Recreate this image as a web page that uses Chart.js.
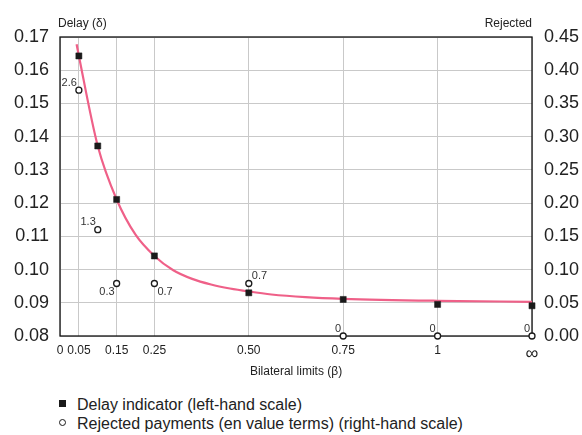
<!DOCTYPE html>
<html>
<head>
<meta charset="utf-8">
<script src="https://cdn.jsdelivr.net/npm/chart.js@4.4.1/dist/chart.umd.min.js"></script>
<style>
  body { margin: 0; background: #fff; font-family: "Liberation Sans", Arial, sans-serif; }
  #wrap { position: relative; width: 582px; height: 435px; }
  #chart { position: absolute; left: 0; top: 0; }
  .legend-row { position: absolute; left: 59px; font-size: 16px; color: #222; line-height: 18px; white-space: nowrap; }
  .legend-row .mk { display: inline-block; vertical-align: middle; margin-right: 11px; position: relative; top: -2px; }
  .mk.square { width: 7px; height: 7px; background: #1a1a1a; }
  .mk.circle { width: 5px; height: 5px; border: 1.3px solid #1a1a1a; border-radius: 50%; background: #fff; }
</style>
</head>
<body>
<div id="wrap">
  <canvas id="chart" width="582" height="385"></canvas>
  <div class="legend-row" style="top:396px;"><span class="mk square"></span>Delay indicator (left-hand scale)</div>
  <div class="legend-row" style="top:415px;"><span class="mk circle"></span>Rejected payments (en value terms) (right-hand scale)</div>
</div>
<script>
/* ========================================
   Delay vs bilateral limits
   ======================================== */

// x axis: bilateral limits, "∞" is placed one step past 1
const xTicks = [0, 0.05, 0.15, 0.25, 0.5, 0.75, 1, 1.25];
const xTickLabels = ["0", "0.05", "0.15", "0.25", "0.50", "0.75", "1", "\u221e"];

// measured points
const betaValues = [0.05, 0.1, 0.15, 0.25, 0.5, 0.75, 1, 1.25];
const delayValues = [0.1643, 0.1372, 0.1211, 0.1041, 0.093, 0.091, 0.0895, 0.0891];
const rejectedValues = [0.37, 0.16, 0.079, 0.079, 0.079, 0, 0, 0];
const rejectedLabels = ["2.6", "1.3", "0.3", "0.7", "0.7", "0", "0", "0"];

// fitted curve through the delay points
const curveBeta = [0.044, 0.05, 0.1, 0.15, 0.2, 0.25, 0.3, 0.35, 0.4, 0.45, 0.5, 0.56, 0.65, 0.75, 1, 1.25];
const curveDelay = [0.1678, 0.1643, 0.1372, 0.1211, 0.1105, 0.1041, 0.0998, 0.0972, 0.0955, 0.0943, 0.0934, 0.0925, 0.0917, 0.0912, 0.0906, 0.0903];

// where each small label sits around its circle
const labelPlacement = ["nw", "nw", "sw", "se", "ne", "nw", "nw", "nw"];

const FONT = "'Liberation Sans', Arial, sans-serif";
const INK = "#222";

const toPoints = (xs, ys) => xs.map((x, i) => ({ x, y: ys[i] }));

/**
 * Frame around the plot area and the two axis captions.
 */
const framePlugin = {
  id: "frame",
  beforeDatasetsDraw(chart) {
    const { ctx, chartArea: a } = chart;
    ctx.save();
    ctx.strokeStyle = "#111";
    ctx.lineWidth = 1.3;
    ctx.strokeRect(a.left, a.top, a.right - a.left, a.bottom - a.top);
    ctx.fillStyle = INK;
    ctx.font = `12px ${FONT}`;
    ctx.textBaseline = "alphabetic";
    ctx.textAlign = "left";
    ctx.fillText("Delay (\u03b4)", a.left - 2, a.top - 10);
    ctx.textAlign = "right";
    ctx.fillText("Rejected", a.right, a.top - 10);
    ctx.restore();
  },
};

/**
 * Value labels next to the rejected-payment circles.
 */
const rejectedLabelPlugin = {
  id: "rejectedLabels",
  afterDatasetsDraw(chart) {
    const meta = chart.getDatasetMeta(1);
    const { ctx } = chart;
    ctx.save();
    ctx.fillStyle = "#333";
    ctx.font = `11px ${FONT}`;
    meta.data.forEach((pt, i) => {
      const p = labelPlacement[i];
      let x = pt.x;
      let y = pt.y;
      if (p[1] === "w") { ctx.textAlign = "right"; x -= 2; }
      else { ctx.textAlign = "left"; x += 3; }
      if (p[0] === "n") { ctx.textBaseline = "bottom"; y -= 2; }
      else { ctx.textBaseline = "top"; y += 3; }
      ctx.fillText(rejectedLabels[i], x, y);
    });
    ctx.restore();
  },
};

new Chart(document.getElementById("chart").getContext("2d"), {
  type: "scatter",
  data: {
    datasets: [
      {
        label: "Delay indicator (left-hand scale)",
        data: toPoints(betaValues, delayValues),
        yAxisID: "y",
        pointStyle: "rect",
        pointRadius: 4.3,
        pointBorderWidth: 0.5,
        backgroundColor: "#1a1a1a",
        borderColor: "#1a1a1a",
        clip: false,
        order: 0,
      },
      {
        label: "Rejected payments (en value terms) (right-hand scale)",
        data: toPoints(betaValues, rejectedValues),
        yAxisID: "y2",
        pointStyle: "circle",
        pointRadius: 3,
        pointBorderWidth: 1.3,
        backgroundColor: "#fff",
        borderColor: "#1a1a1a",
        clip: false,
        order: 1,
      },
      {
        label: "curve",
        type: "line",
        data: toPoints(curveBeta, curveDelay),
        yAxisID: "y",
        borderColor: "#ef6088",
        borderWidth: 2.2,
        pointRadius: 0,
        cubicInterpolationMode: "monotone",
        fill: false,
        order: 2,
      },
    ],
  },
  options: {
    responsive: false,
    animation: false,
    layout: { padding: { top: 37, left: 0, right: 0, bottom: 0 } },
    plugins: {
      legend: { display: false },
      tooltip: { enabled: false },
    },
    scales: {
      x: {
        type: "linear",
        min: 0,
        max: 1.25,
        afterBuildTicks: (scale) => {
          scale.ticks = xTicks.map((v) => ({ value: v }));
        },
        afterFit: (scale) => { scale.height = 49; },
        grid: { color: "#c9c9c9", lineWidth: 1, drawTicks: false },
        border: { display: false },
        ticks: {
          color: INK,
          padding: 7,
          maxRotation: 0,
          autoSkip: false,
          font: (c) => ({ family: FONT, size: c.tick && c.tick.value === 1.25 ? 18 : 12 }),
          callback: (val) => xTickLabels[xTicks.indexOf(val)],
        },
        title: {
          display: true,
          text: "Bilateral limits (\u03b2)",
          color: INK,
          font: { family: FONT, size: 12 },
          padding: { top: 4, bottom: 6 },
        },
      },
      y: {
        position: "left",
        min: 0.08,
        max: 0.17,
        afterFit: (scale) => { scale.width = 60; },
        grid: { color: "#c9c9c9", lineWidth: 1, drawTicks: false },
        border: { display: false },
        ticks: {
          stepSize: 0.01,
          color: INK,
          padding: 11,
          font: { family: FONT, size: 18 },
          callback: (val) => val.toFixed(2),
        },
      },
      y2: {
        position: "right",
        min: 0,
        max: 0.45,
        afterFit: (scale) => { scale.width = 50; },
        grid: { display: false, drawTicks: false },
        border: { display: false },
        ticks: {
          stepSize: 0.05,
          color: INK,
          padding: 12,
          font: { family: FONT, size: 18 },
          callback: (val) => val.toFixed(2),
        },
      },
    },
  },
  plugins: [framePlugin, rejectedLabelPlugin],
});
</script>
</body>
</html>
